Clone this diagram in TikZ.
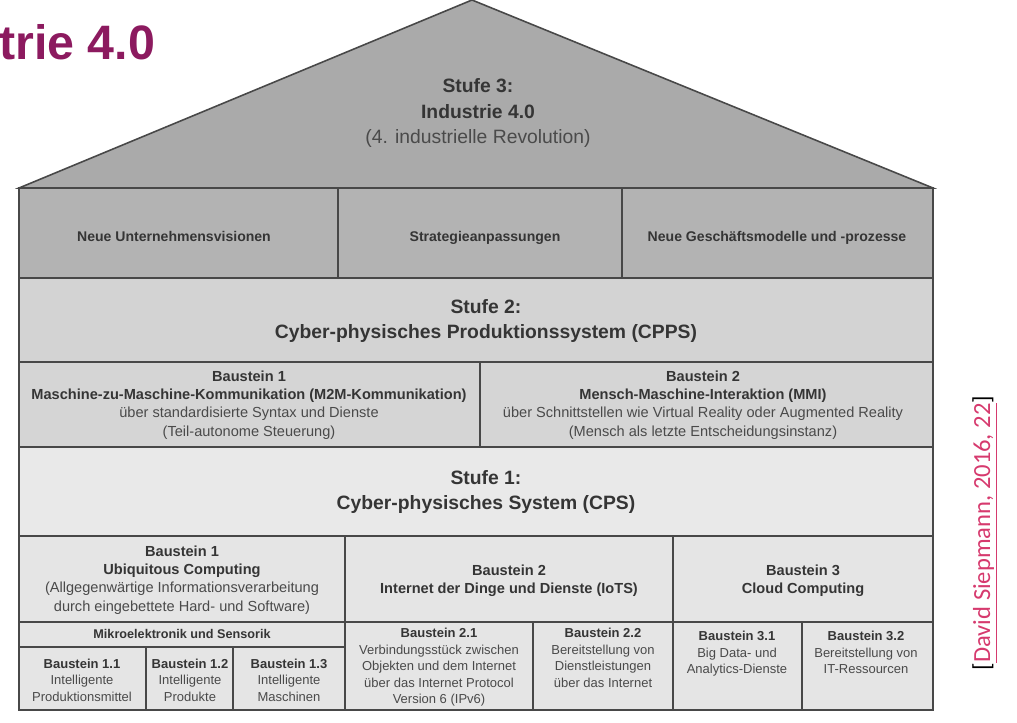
\documentclass[tikz,border=0pt]{standalone}
\usepackage{fontspec}
\setmainfont{Liberation Sans}
\newfontfamily\citefont{Carlito}
\usepackage{tikz}
\usetikzlibrary{shapes}

\definecolor{rooffill}{HTML}{AAAAAA}
\definecolor{topfill}{HTML}{B3B3B3}
\definecolor{midfill}{HTML}{D3D3D3}
\definecolor{lowfill}{HTML}{E5E5E5}
\definecolor{framegray}{HTML}{484848}
\definecolor{darktext}{HTML}{353535}
\definecolor{softtext}{HTML}{4A4A4A}
\definecolor{titlepurple}{HTML}{8C1A5F}
\definecolor{citered}{HTML}{D63A6E}

\begin{document}
\begin{tikzpicture}[x=0.02cm,y=-0.02cm]
		\tikzstyle{every node}+=[inner sep=0pt, align=center, text=darktext]
		\tikzstyle{frame}=[draw=framegray, line width=0.9pt]
		\tikzstyle{stufe}=[font=\fontsize{11}{14.3}\selectfont\bfseries]
		\tikzstyle{vision}=[anchor=base, font=\fontsize{8}{10}\selectfont\bfseries]
		\tikzstyle{block}=[font=\fontsize{8.3}{10.4}\selectfont]
		\tikzstyle{subblock}=[font=\fontsize{7.4}{9.4}\selectfont]
		\useasboundingbox (0,0) rectangle (1017,723);
		% Stufe 3
		\filldraw [frame, fill=rooffill] (19,188) -- (472,0) -- (933,188) -- cycle;
		\node (stufe3) at (478,113) [stufe] {Stufe 3:\\Industrie 4.0\\{\mdseries\color{softtext}(4. industrielle Revolution)}};
		\filldraw [frame, fill=topfill] (19,188) rectangle (338,278);
		\filldraw [frame, fill=topfill] (338,188) rectangle (622,278);
		\filldraw [frame, fill=topfill] (622,188) rectangle (933,278);
		\node (vision) at (174,241) [vision] {Neue Unternehmensvisionen};
		\node (strategie) at (485,241) [vision] {Strategieanpassungen};
		\node (geschaeft) at (777,241) [vision] {Neue Gesch\"aftsmodelle und -prozesse};
		% Stufe 2
		\filldraw [frame, fill=midfill] (19,278) rectangle (933,362);
		\node (stufe2) at (486,321) [stufe] {Stufe 2:\\Cyber-physisches Produktionssystem (CPPS)};
		\filldraw [frame, fill=midfill!95!white] (19,362) rectangle (480,447);
		\filldraw [frame, fill=midfill!95!white] (480,362) rectangle (933,447);
		\node (mmk) at (249,405) [block] {\textbf{Baustein 1}\\\textbf{Maschine-zu-Maschine-Kommunikation (M2M-Kommunikation)}\\{\color{softtext}\"uber standardisierte Syntax und Dienste}\\{\color{softtext}(Teil-autonome Steuerung)}};
		\node (mmi) at (703,405) [block] {\textbf{Baustein 2}\\\textbf{Mensch-Maschine-Interaktion (MMI)}\\{\color{softtext}\"uber Schnittstellen wie Virtual Reality oder Augmented Reality}\\{\color{softtext}(Mensch als letzte Entscheidungsinstanz)}};
		% Stufe 1
		\filldraw [frame, fill=lowfill!85!white] (19,447) rectangle (933,536);
		\node (stufe1) at (486,492) [stufe] {Stufe 1:\\Cyber-physisches System (CPS)};
		\filldraw [frame, fill=lowfill] (19,536) rectangle (345,622);
		\filldraw [frame, fill=lowfill] (345,536) rectangle (673,622);
		\filldraw [frame, fill=lowfill] (673,536) rectangle (933,622);
		\node (ubi) at (182,580) [block] {\textbf{Baustein 1}\\\textbf{Ubiquitous Computing}\\{\color{softtext}(Allgegenw\"artige Informationsverarbeitung}\\{\color{softtext}durch eingebettete Hard- und Software)}};
		\node (iots) at (509,581) [block] {\textbf{Baustein 2}\\\textbf{Internet der Dinge und Dienste (IoTS)}};
		\node (cloud) at (803,581) [block] {\textbf{Baustein 3}\\\textbf{Cloud Computing}};
		\filldraw [frame, fill=lowfill] (19,622) rectangle (345,647);
		\node (sensorik) at (182,634) [subblock, font=\fontsize{7.2}{9}\selectfont\bfseries] {Mikroelektronik und Sensorik};
		\filldraw [frame, fill=lowfill] (19,647) rectangle (146,710);
		\filldraw [frame, fill=lowfill] (146,647) rectangle (233,710);
		\filldraw [frame, fill=lowfill] (233,647) rectangle (345,710);
		\node (b11) at (82,680) [subblock] {\textbf{Baustein 1.1}\\{\color{softtext}Intelligente}\\{\color{softtext}Produktionsmittel}};
		\node (b12) at (190,680) [subblock] {\textbf{Baustein 1.2}\\{\color{softtext}Intelligente}\\{\color{softtext}Produkte}};
		\node (b13) at (289,680) [subblock] {\textbf{Baustein 1.3}\\{\color{softtext}Intelligente}\\{\color{softtext}Maschinen}};
		\filldraw [frame, fill=lowfill] (345,622) rectangle (533,710);
		\filldraw [frame, fill=lowfill] (533,622) rectangle (673,710);
		\node (b21) at (439,628) [subblock, anchor=north] {\textbf{Baustein 2.1}\\{\color{softtext}Verbindungsst\"uck zwischen}\\{\color{softtext}Objekten und dem Internet}\\{\color{softtext}\"uber das Internet Protocol}\\{\color{softtext}Version 6 (IPv6)}};
		\node (b22) at (603,628) [subblock, anchor=north] {\textbf{Baustein 2.2}\\{\color{softtext}Bereitstellung von}\\{\color{softtext}Dienstleistungen}\\{\color{softtext}\"uber das Internet}};
		\filldraw [frame, fill=lowfill] (673,622) rectangle (802,710);
		\filldraw [frame, fill=lowfill] (802,622) rectangle (933,710);
		\node (b31) at (737,631) [subblock, anchor=north] {\textbf{Baustein 3.1}\\{\color{softtext}Big Data- und}\\{\color{softtext}Analytics-Dienste}};
		\node (b32) at (866,631) [subblock, anchor=north] {\textbf{Baustein 3.2}\\{\color{softtext}Bereitstellung von}\\{\color{softtext}IT-Ressourcen}};
		% title and source
		\node (title) at (-1,60) [anchor=base west, text=titlepurple, font=\fontsize{27.5}{30}\selectfont\bfseries] {trie 4.0};
		\node (source) at (985,533) [rotate=90, text=black, font=\fontsize{14}{16}\selectfont\citefont] {[{\color{citered}\underline{David Siepmann, 2016, 22}}]};
		\end{tikzpicture}
\end{document}
